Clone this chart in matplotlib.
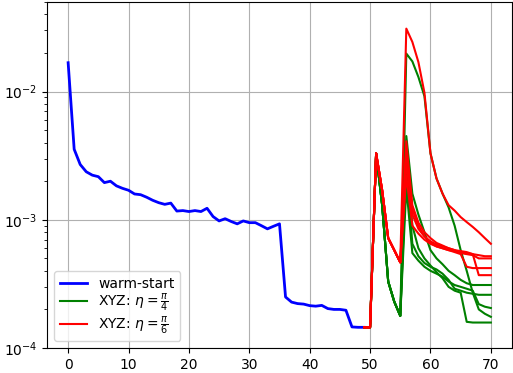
import numpy as np
import matplotlib
matplotlib.use("Agg")
import matplotlib.pyplot as plt

# warm-start curve (iterations 0..49)
warm_x = list(range(0, 50))
warm_y = [0.0168, 0.00355, 0.0027, 0.00237, 0.00223, 0.00217, 0.00195, 0.0020, 0.00184, 0.00176,
          0.0017, 0.00159, 0.00157, 0.0015, 0.00142, 0.00136, 0.00132, 0.00135, 0.00117, 0.00118,
          0.00116, 0.00118, 0.00116, 0.00123, 0.00106, 0.00098, 0.00102, 0.00097, 0.00093, 0.00098,
          0.00095, 0.00095, 0.0009, 0.00085, 0.00089, 0.00093, 0.00025, 0.000228, 0.000222, 0.00022,
          0.000214, 0.000212, 0.000215, 0.000203, 0.0002, 0.0002, 0.000197, 0.000146, 0.000145, 0.000145]

# XYZ runs (iterations 49..70)
xyz_x = list(range(49, 71))
green_prefix = [0.000145, 0.000145, 0.0033, 0.0013, 0.00033, 0.00023, 0.000178]
red_prefix = [0.000145, 0.000145, 0.0033, 0.0017, 0.00072, 0.00058, 0.000465]

green_tails = [
    [0.0198, 0.0172, 0.013, 0.0092, 0.0033, 0.0021, 0.0016, 0.00125, 0.0009, 0.00058, 0.0004, 0.00027, 0.0002, 0.000185, 0.000175],
    [0.0045, 0.0016, 0.0011, 0.0008, 0.00058, 0.0005, 0.00045, 0.0004, 0.00037, 0.00034, 0.00032, 0.00031, 0.00031, 0.00031, 0.00031],
    [0.0026, 0.00065, 0.00052, 0.00046, 0.00043, 0.00041, 0.00038, 0.00034, 0.00029, 0.00028, 0.00027, 0.000265, 0.00026, 0.00026, 0.00026],
    [0.0018, 0.00055, 0.00048, 0.00043, 0.0004, 0.00038, 0.00036, 0.00033, 0.00031, 0.0003, 0.00029, 0.00028, 0.00022, 0.00021, 0.000205],
    [0.0032, 0.0009, 0.0006, 0.0005, 0.00044, 0.00039, 0.00035, 0.0003, 0.00028, 0.00027, 0.00016, 0.000158, 0.000158, 0.000158, 0.000158],
]
red_tails = [
    [0.031, 0.0244, 0.017, 0.0098, 0.0033, 0.0021, 0.0016, 0.0013, 0.00118, 0.00105, 0.00096, 0.00088, 0.0008, 0.00072, 0.00065],
    [0.0041, 0.0013, 0.00095, 0.0008, 0.00072, 0.00066, 0.00063, 0.0006, 0.00058, 0.00057, 0.00056, 0.00054, 0.00053, 0.00052, 0.00052],
    [0.0028, 0.0011, 0.00085, 0.00074, 0.00068, 0.00064, 0.00062, 0.0006, 0.00058, 0.00055, 0.00054, 0.00053, 0.0005, 0.0005, 0.0005],
    [0.0035, 0.0012, 0.0009, 0.00075, 0.00066, 0.00062, 0.0006, 0.00058, 0.00056, 0.00054, 0.00043, 0.00042, 0.00042, 0.00042, 0.00042],
    [0.0022, 0.0009, 0.00078, 0.0007, 0.00065, 0.00062, 0.0006, 0.00058, 0.00057, 0.00056, 0.00055, 0.00054, 0.00037, 0.00037, 0.00037],
]

labels = ["warm-start", r"XYZ: $\eta=\frac{\pi}{4}$", r"XYZ: $\eta=\frac{\pi}{6}$"]

fig = plt.figure(figsize=(5.13, 3.73), dpi=100)
ax = fig.add_axes([47 / 513, 25 / 373, 465 / 513, 346 / 373])

ax.plot(warm_x, warm_y, color="blue", lw=2, label=labels[0])
for i, tail in enumerate(green_tails):
    ax.plot(xyz_x, green_prefix + tail, color="green", lw=1.5,
            label=labels[1] if i == 0 else None)
for i, tail in enumerate(red_tails):
    ax.plot(xyz_x, red_prefix + tail, color="red", lw=1.5,
            label=labels[2] if i == 0 else None)

ax.set_yscale("log")
ax.set_ylim(1e-4, 0.05)
ax.set_xlim(-3.5, 73.5)
ax.set_xticks([0, 10, 20, 30, 40, 50, 60, 70])
ax.grid(True, which="major", color="#b0b0b0", lw=0.8)
ax.legend(loc="lower left", labelspacing=0.05)

fig.savefig("out.png", dpi=100)
